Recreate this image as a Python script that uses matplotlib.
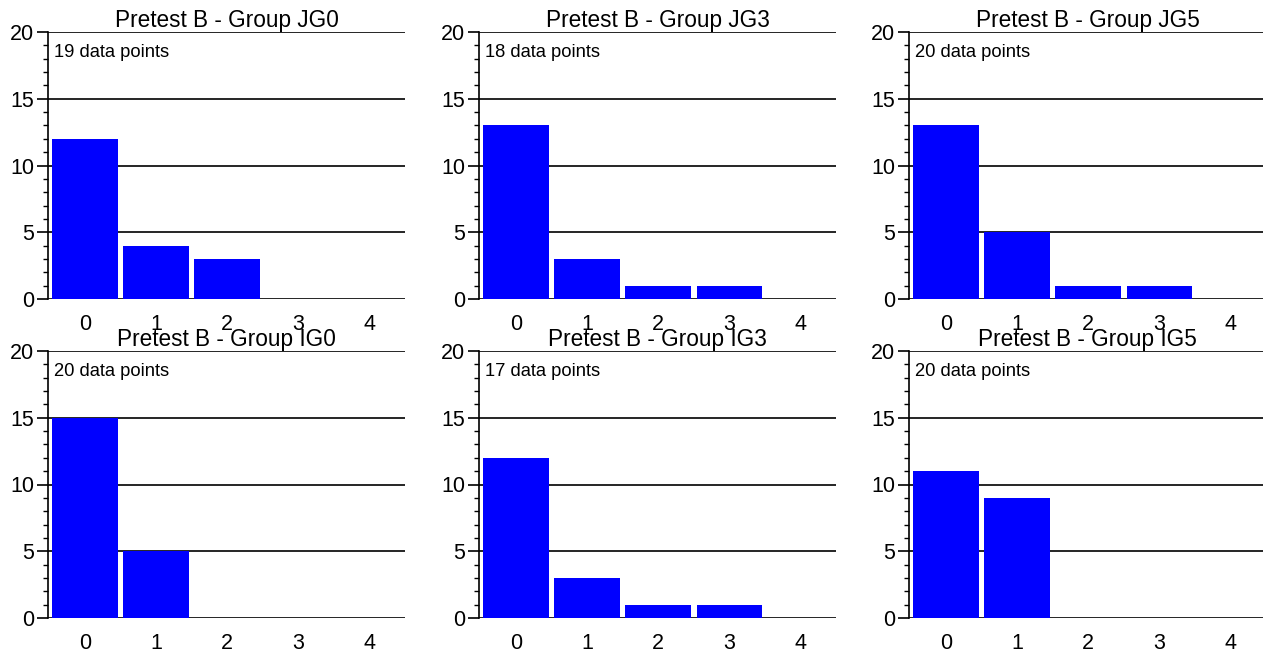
import numpy as np
import matplotlib
matplotlib.use('Agg')
import matplotlib.pyplot as plt
from matplotlib.ticker import MultipleLocator

plt.rcParams['font.family'] = ['Liberation Sans', 'DejaVu Sans']

categories = [0, 1, 2, 3, 4]
groups = ['JG0', 'JG3', 'JG5', 'IG0', 'IG3', 'IG5']
counts_jg0 = [12, 4, 3, 0, 0]
counts_jg3 = [13, 3, 1, 1, 0]
counts_jg5 = [13, 5, 1, 1, 0]
counts_ig0 = [15, 5, 0, 0, 0]
counts_ig3 = [12, 3, 1, 1, 0]
counts_ig5 = [11, 9, 0, 0, 0]
n_points = [19, 18, 20, 20, 17, 20]
all_counts = [counts_jg0, counts_jg3, counts_jg5, counts_ig0, counts_ig3, counts_ig5]

fig = plt.figure(figsize=(12.63, 6.52), dpi=100)
lefts = [48 / 1263, 479 / 1263, 909 / 1263]
width = 357 / 1263
bottoms = [353 / 652, 34 / 652]
height = 267 / 652

for i, (grp, counts, n) in enumerate(zip(groups, all_counts, n_points)):
    ax = fig.add_axes([lefts[i % 3], bottoms[i // 3], width, height])
    ax.bar(categories, counts, width=0.92, color='#0000ff', zorder=3)
    ax.set_xlim(-0.52, 4.5)
    ax.set_ylim(0, 20)
    for y in range(0, 21, 5):
        ax.axhline(y, color='black', lw=1.2, zorder=1)
    for s in ['top', 'right', 'bottom']:
        ax.spines[s].set_visible(False)
    ax.spines['left'].set_linewidth(1.2)
    ax.yaxis.set_major_locator(MultipleLocator(5))
    ax.yaxis.set_minor_locator(MultipleLocator(1))
    ax.tick_params(axis='y', which='major', direction='out', length=8, width=1.2,
                   labelsize=15.5, pad=2)
    ax.tick_params(axis='y', which='minor', direction='out', length=3.6, width=1.0)
    ax.set_xticks(categories)
    ax.tick_params(axis='x', length=0, labelsize=15.5, pad=11)
    ax.set_title('Pretest B - Group ' + grp, fontsize=16.3, pad=3)
    ax.text(0.017, 0.955, f'{n} data points', transform=ax.transAxes,
            fontsize=13.2, va='top', ha='left')

fig.savefig('out.png', dpi=100)
